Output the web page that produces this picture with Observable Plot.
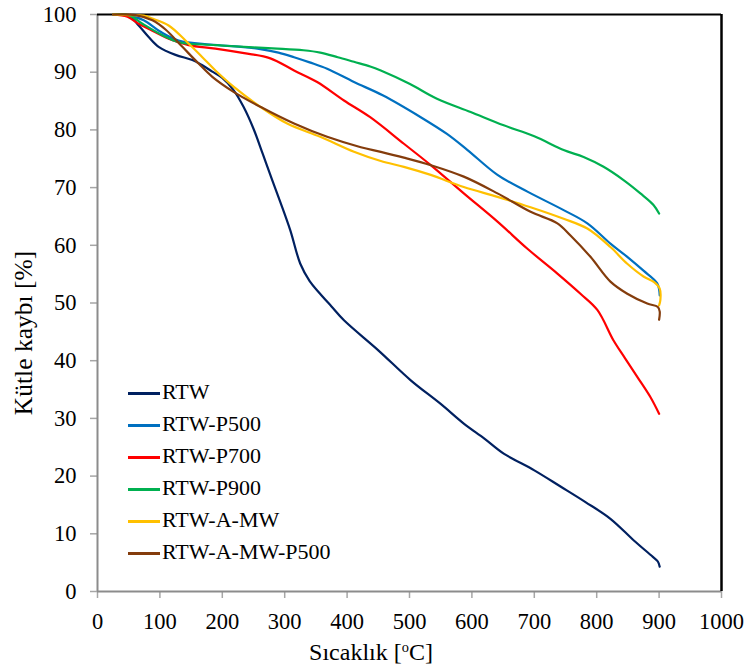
<!DOCTYPE html>
<html>
<head>
<meta charset="utf-8">
<script src="https://cdn.jsdelivr.net/npm/d3@7"></script>
<script src="https://cdn.jsdelivr.net/npm/@observablehq/plot@0.6"></script>
</head>
<body style="margin:0;padding:0;background:#fff">
<div id="wrap" style="position:relative;width:749px;height:671px;font-family:'Liberation Serif', serif;color:#000"></div>
<script>
// Series names and colours
const seriesNames = ["RTW", "RTW-P500", "RTW-P700", "RTW-P900", "RTW-A-MW", "RTW-A-MW-P500"];
const seriesColors = ["#002060", "#0070C0", "#FF0000", "#00B050", "#FFC000", "#843C0C"];

// Axis ticks
const xTicks = [0, 100, 200, 300, 400, 500, 600, 700, 800, 900, 1000];
const yTicks = [0, 10, 20, 30, 40, 50, 60, 70, 80, 90, 100];

// [temperature °C, mass %]
const rtw = [[25,100],[50,99.8],[66,98.1],[82,96.1],[98,94.4],[125,93],[152,92.1],[168,91.2],[184,90.1],[200,89],[218,86.9],[234,84],[250,80.2],[265,75.8],[280,71.3],[293,67.5],[309,62.6],[325,56.8],[340,53.8],[356,51.7],[375,49.4],[395,47],[450,41.8],[502,36.6],[550,32.5],[587,29.1],[620,26.5],[651,23.9],[700,21],[742,18.2],[782,15.5],[822,12.6],[860,8.8],[890,6],[898,5.2],[901,4.3]];
const rtwP500 = [[25,100],[50,99.8],[74,99],[101,97],[130,95.5],[181,94.8],[230,94.4],[261,94],[290,93.4],[315,92.6],[340,91.7],[368,90.6],[411,88.3],[457,86],[518,82.2],[560,79.3],[593,76.5],[641,72.2],[689,69.3],[747,66.1],[785,63.8],[822,60.3],[849,58],[875,55.6],[897,53.4],[901,51.3]];
const rtwP700 = [[25,100],[48,99.6],[66,98.4],[88,97.2],[114,95.8],[146,94.7],[189,94.1],[235,93.3],[277,92.4],[315,90.3],[352,88.3],[395,85.1],[437,82.2],[491,77.6],[534,73.9],[587,69],[641,64.1],[689,59.4],[737,55.1],[774,51.6],[801,48.8],[827,43.5],[845,40.5],[865,37.2],[886,33.7],[900,30.8]];
const rtwP900 = [[25,100],[50,99.9],[72,98.4],[104,96.4],[130,95.2],[189,94.7],[250,94.3],[288,94.1],[330,93.8],[357,93.4],[385,92.6],[411,91.8],[437,91],[454,90.3],[500,88],[544,85.4],[598,83.1],[651,80.8],[700,78.9],[747,76.5],[779,75.3],[811,73.6],[843,71.3],[870,69],[891,67],[900,65.5]];
const rtwAMW = [[25,100],[50,99.9],[74,99.8],[88,99.3],[114,98.1],[141,95.5],[168,92.6],[189,90.3],[218,87.5],[261,84],[304,81.1],[357,78.8],[411,76.2],[454,74.6],[491,73.6],[534,72.2],[587,70.1],[641,68.4],[694,66.6],[747,64.6],[785,62.9],[822,59.7],[849,56.8],[875,54.6],[892,53.6],[901,52.5],[902,50.5],[900,49.6]];
const rtwAMWP500 = [[25,100],[61,99.9],[88,99],[109,97.4],[136,94.4],[162,91.5],[184,89.2],[218,86.6],[261,84],[315,81.1],[368,78.8],[422,77],[454,76.2],[491,75.2],[534,73.9],[587,71.9],[641,69],[694,65.8],[737,63.8],[758,61.7],[790,58],[822,53.7],[849,51.6],[881,49.9],[898,49.3],[901,48.5],[900,47.1]];

const seriesData = [rtw, rtwP500, rtwP700, rtwP900, rtwAMW, rtwAMWP500];
const rows = seriesData.flatMap((pts, i) => pts.map(([t, m]) => ({series: seriesNames[i], t, m})));

const FONT = "'Liberation Serif', serif";

const plot = Plot.plot({
  width: 749,
  height: 671,
  marginLeft: 97,
  marginRight: 28,
  marginTop: 14,
  marginBottom: 80,
  x: {domain: [0, 1000]},
  y: {domain: [0, 100]},
  color: {domain: seriesNames, range: seriesColors},
  style: {fontFamily: FONT, fontSize: "22.5px", color: "#000", background: "#fff", overflow: "visible"},
  marks: [
    Plot.axisX({ticks: xTicks, tickSize: 7, tickPadding: 15, stroke: "#a6a6a6", strokeWidth: 1.5, label: null, tickFormat: d3.format("d"), fontSize: 22.5}),
    Plot.axisY({ticks: yTicks, tickSize: 7, tickPadding: 14, stroke: "#a6a6a6", strokeWidth: 1.5, label: null, tickFormat: d3.format("d"), fontSize: 22.5}),
    Plot.ruleX([0], {stroke: "#8c8c8c", strokeWidth: 2}),
    Plot.ruleY([0], {stroke: "#8c8c8c", strokeWidth: 2}),
    Plot.ruleY([100], {stroke: "#000", strokeWidth: 2}),
    Plot.ruleX([1000], {stroke: "#000", strokeWidth: 2.5}),
    Plot.line(rows, {x: "t", y: "m", z: "series", stroke: "series", strokeWidth: 2.2, curve: "catmull-rom"})
  ]
});
plot.style.position = "absolute";
plot.style.left = "0px";
plot.style.top = "0px";

const wrap = document.getElementById("wrap");
wrap.appendChild(plot);

function place(el, css) { Object.assign(el.style, {position: "absolute", whiteSpace: "nowrap", lineHeight: "1", fontFamily: FONT}, css); wrap.appendChild(el); return el; }

// Legend (inside plot area)
const legendY = [393, 425, 457, 489, 521, 553];
seriesNames.forEach((name, i) => {
  const sw = document.createElement("div");
  place(sw, {left: "128px", top: (legendY[i] - 1.5) + "px", width: "32px", height: "3px", background: seriesColors[i]});
  const tx = document.createElement("div");
  tx.textContent = name;
  place(tx, {left: "162px", top: legendY[i] + "px", fontSize: "22px", transform: "translateY(-55%)"});
});

// Axis titles
const xt = document.createElement("div");
xt.innerHTML = "Sıcaklık [<sup style=\"font-size:0.6em;vertical-align:0.55em;line-height:0\">o</sup>C]";
place(xt, {left: "371px", top: "652px", fontSize: "24px", transform: "translate(-50%, -50%)"});

const yt = document.createElement("div");
yt.textContent = "Kütle kaybı [%]";
place(yt, {left: "24px", top: "333px", fontSize: "25.5px", transform: "translate(-50%, -50%) rotate(-90deg)"});
</script>
</body>
</html>
